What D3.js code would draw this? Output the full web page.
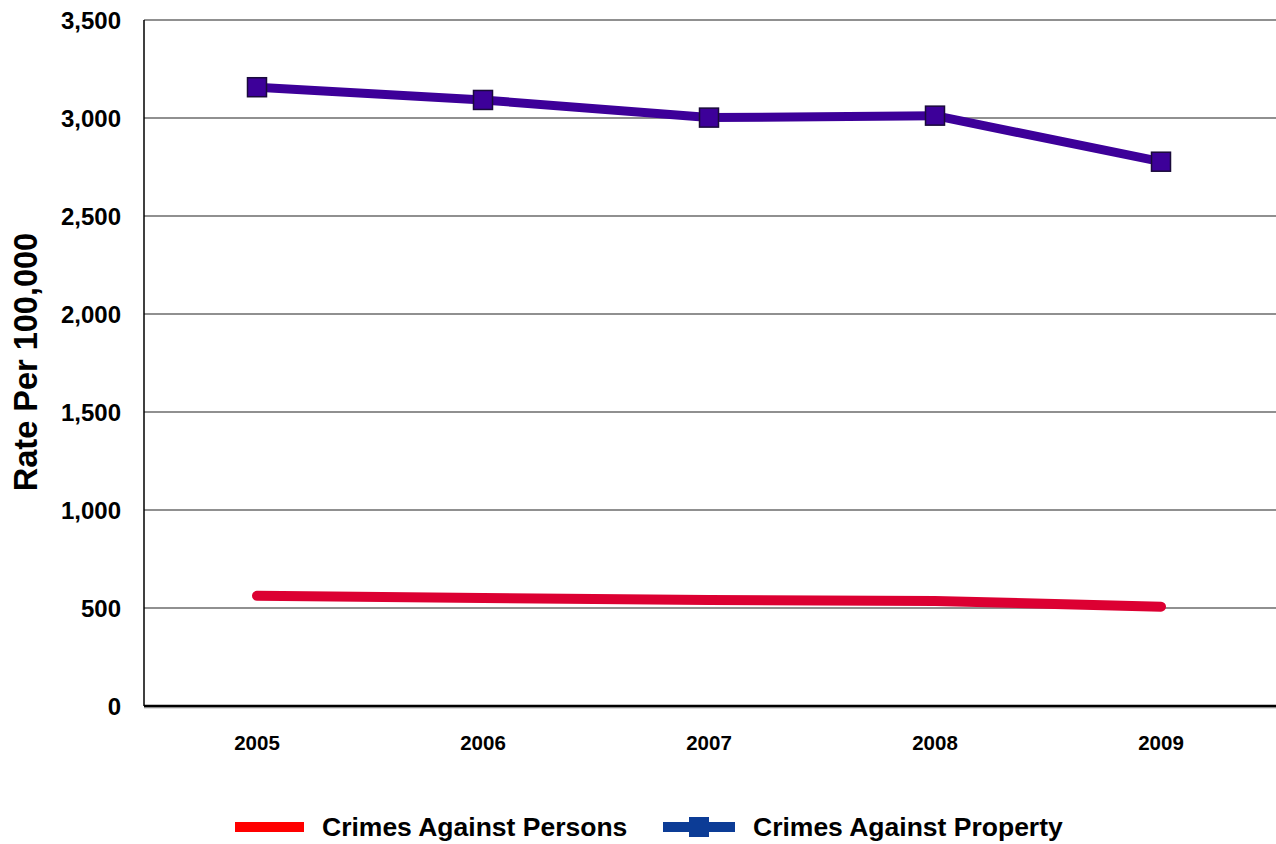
<!DOCTYPE html>
<html>
<head>
<meta charset="utf-8">
<script src="https://cdn.jsdelivr.net/npm/d3@7"></script>
<style>
  html, body { margin: 0; padding: 0; background: #fff; }
  svg { display: block; font-family: Arial, "Liberation Sans", sans-serif; }
</style>
</head>
<body>
<svg id="chart" width="1276" height="844"></svg>
<script>
// Chart data
const years = ['2005', '2006', '2007', '2008', '2009'];
const personsRate = [562, 551, 541, 536, 507];
const propertyRate = [3157, 3092, 3002, 3012, 2777];
const yTicks = [0, 500, 1000, 1500, 2000, 2500, 3000, 3500];
const seriesNames = ['Crimes Against Persons', 'Crimes Against Property'];

const svg = d3.select('#chart');
const margin = { left: 144, right: 1274, top: 20, bottom: 706 };

const x = d3.scaleBand().domain(years).range([margin.left, margin.right]);
const y = d3.scaleLinear().domain([0, 3500]).range([margin.bottom, margin.top]);

// gridlines
svg.append('g')
    .selectAll('line')
    .data(yTicks.filter(d => d > 0))
    .join('line')
    .attr('x1', margin.left).attr('x2', 1276)
    .attr('y1', d => y(d)).attr('y2', d => y(d))
    .attr('stroke', '#222')
    .attr('stroke-width', 1.2);

// y axis line
svg.append('line')
    .attr('x1', margin.left).attr('x2', margin.left)
    .attr('y1', margin.top).attr('y2', margin.bottom)
    .attr('stroke', '#000').attr('stroke-width', 1.5);

// x axis line (thick)
svg.append('line')
    .attr('x1', margin.left).attr('x2', 1276)
    .attr('y1', margin.bottom + 1.5).attr('y2', margin.bottom + 1.5)
    .attr('stroke', '#bbb').attr('stroke-width', 2);
svg.append('line')
    .attr('x1', margin.left).attr('x2', 1276)
    .attr('y1', margin.bottom).attr('y2', margin.bottom)
    .attr('stroke', '#000').attr('stroke-width', 2.5);

// y tick labels
const fmt = d3.format(',');
svg.append('g')
    .selectAll('text')
    .data(yTicks)
    .join('text')
    .attr('x', 121)
    .attr('y', d => y(d))
    .attr('dy', '0.36em')
    .attr('text-anchor', 'end')
    .attr('font-size', 24)
    .attr('font-weight', 'bold')
    .text(d => fmt(d));

// x tick labels
svg.append('g')
    .selectAll('text')
    .data(years)
    .join('text')
    .attr('x', d => x(d) + x.bandwidth() / 2)
    .attr('y', 750)
    .attr('text-anchor', 'middle')
    .attr('font-size', 20.5)
    .attr('font-weight', 'bold')
    .text(d => d);

// y axis title
svg.append('text')
    .attr('transform', 'translate(37, 362) rotate(-90)')
    .attr('text-anchor', 'middle')
    .attr('font-size', 32.5)
    .attr('font-weight', 'bold')
    .text('Rate Per 100,000');

const line = d3.line()
    .x((d, i) => x(years[i]) + x.bandwidth() / 2)
    .y(d => y(d));

// persons line
svg.append('path')
    .datum(personsRate)
    .attr('d', line)
    .attr('fill', 'none')
    .attr('stroke', '#dc0032')
    .attr('stroke-width', 10)
    .attr('stroke-linecap', 'round')
    .attr('stroke-linejoin', 'round');

// property line
svg.append('path')
    .datum(propertyRate)
    .attr('d', line)
    .attr('fill', 'none')
    .attr('stroke', '#3d0099')
    .attr('stroke-width', 9)
    .attr('stroke-linejoin', 'round');

const ms = 19;
svg.append('g')
    .selectAll('rect')
    .data(propertyRate)
    .join('rect')
    .attr('x', (d, i) => x(years[i]) + x.bandwidth() / 2 - ms / 2)
    .attr('y', d => y(d) - ms / 2)
    .attr('width', ms).attr('height', ms)
    .attr('fill', '#3d0099')
    .attr('stroke', '#1a0a3a')
    .attr('stroke-width', 1.5);

// legend
const lg = svg.append('g');
lg.append('rect')
    .attr('x', 235).attr('y', 822).attr('width', 69).attr('height', 10)
    .attr('fill', '#ff0000');
lg.append('text')
    .attr('x', 322).attr('y', 836)
    .attr('font-size', 26.5).attr('font-weight', 'bold')
    .text(seriesNames[0]);

lg.append('rect')
    .attr('x', 663).attr('y', 822).attr('width', 72).attr('height', 10)
    .attr('fill', '#0c3c96');
lg.append('rect')
    .attr('x', 689).attr('y', 817).attr('width', 20).attr('height', 20)
    .attr('fill', '#0c3c96');
lg.append('text')
    .attr('x', 753).attr('y', 836)
    .attr('font-size', 26.5).attr('font-weight', 'bold')
    .text(seriesNames[1]);
</script>
</body>
</html>
